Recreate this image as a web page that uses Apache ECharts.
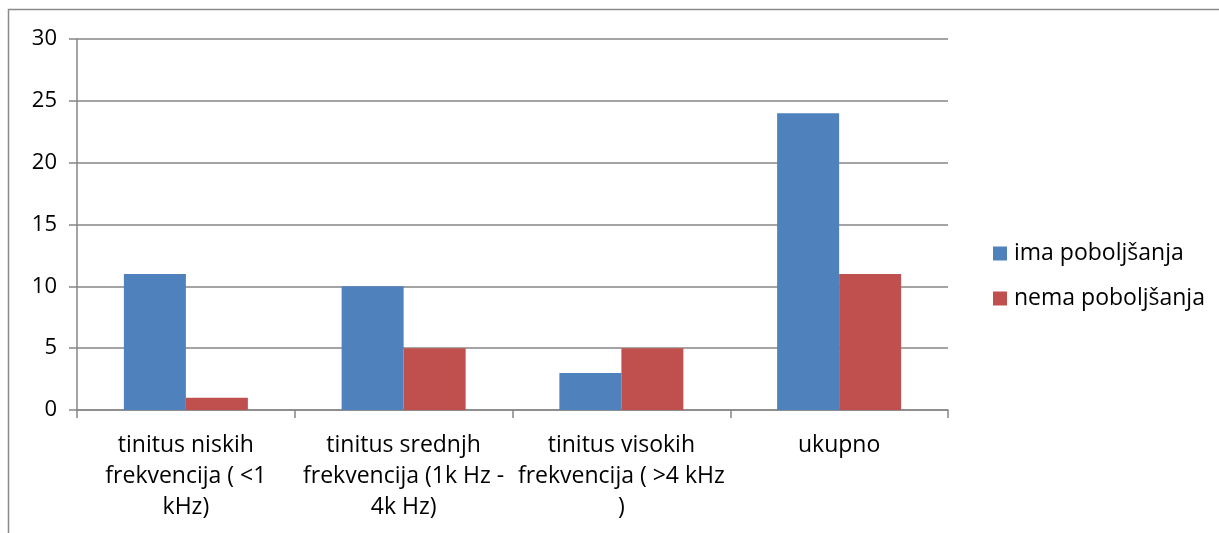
<!DOCTYPE html>
<html><head><meta charset="utf-8">
<script src="https://cdn.jsdelivr.net/npm/echarts@6/dist/echarts.min.js"></script>
<style>html,body{margin:0;padding:0;background:#fff}#c{width:1219px;height:533px}</style>
</head><body><div id="c"></div>
<script>
const categories = ['tinitus niskih\nfrekvencija ( <1\nkHz)', 'tinitus srednjh\nfrekvencija (1k Hz -\n4k Hz)', 'tinitus visokih\nfrekvencija ( >4 kHz\n)', 'ukupno'];
const imaPoboljsanja = [11, 10, 3, 24];
const nemaPoboljsanja = [1, 5, 5, 11];
const seriesNames = ['ima poboljšanja', 'nema poboljšanja'];
const yTicks = {min: 0, max: 30, interval: 5};

const FONT = 'Open Sans';
const chart = echarts.init(document.getElementById('c'));
chart.setOption({
  animation: false,
  textStyle: {fontFamily: FONT},
  graphic: [{type: 'rect', shape: {x: 8.5, y: 9.5, width: 1400, height: 700}, style: {fill: 'none', stroke: '#8a8a8a', lineWidth: 1.5}, silent: true}],
  grid: {left: 77, right: 271, top: 39, bottom: 123, containLabel: false},
  legend: {
    orient: 'vertical', left: 988, top: 237, itemGap: 22, itemWidth: 14, itemHeight: 14, icon: 'rect',
    textStyle: {fontFamily: FONT, fontSize: 23, color: '#000', padding: [0, 0, 0, 2]},
    data: seriesNames
  },
  xAxis: {
    type: 'category', data: categories,
    axisLine: {lineStyle: {color: '#868686', width: 1.5}},
    axisTick: {show: true, length: 8, lineStyle: {color: '#868686', width: 1.5}, alignWithLabel: false},
    axisLabel: {fontFamily: FONT, fontSize: 23, color: '#000', lineHeight: 31, margin: 20, interval: 0}
  },
  yAxis: {
    type: 'value', min: yTicks.min, max: yTicks.max, interval: yTicks.interval,
    axisLine: {show: true, lineStyle: {color: '#868686', width: 1.5}},
    axisTick: {show: true, length: 8, inside: false, lineStyle: {color: '#868686', width: 1.5}},
    splitLine: {lineStyle: {color: '#868686', width: 1.5}},
    axisLabel: {fontFamily: FONT, fontSize: 22, color: '#000', margin: 20}
  },
  series: [
    {name: seriesNames[0], type: 'bar', data: imaPoboljsanja, barWidth: 62, barGap: '0%', itemStyle: {color: '#4F81BD'}},
    {name: seriesNames[1], type: 'bar', data: nemaPoboljsanja, barWidth: 62, barGap: '0%', itemStyle: {color: '#C0504D'}}
  ]
});
</script></body></html>
